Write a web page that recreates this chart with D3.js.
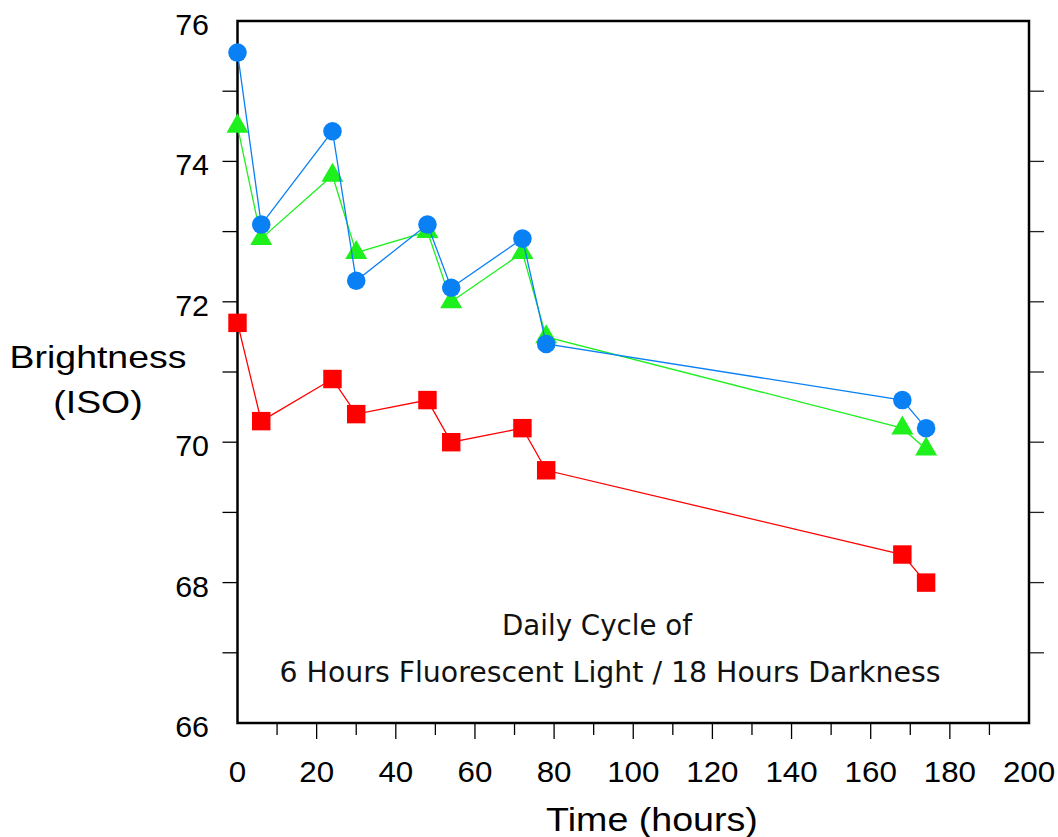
<!DOCTYPE html>
<html><head><meta charset="utf-8">
<script src="https://cdn.jsdelivr.net/npm/d3@7"></script>
<style>body{margin:0;background:#fff}svg{display:block}</style>
</head><body>
<script>
const hours = [0, 6, 24, 30, 48, 54, 72, 78, 168, 174];
const blueSeries = [75.55, 73.1, 74.43, 72.3, 73.1, 72.2, 72.9, 71.4, 70.6, 70.2];
const greenSeries = [74.5, 72.9, 73.8, 72.7, 73.0, 72.0, 72.7, 71.5, 70.2, 69.9];
const redSeries = [71.7, 70.3, 70.9, 70.4, 70.6, 70.0, 70.2, 69.6, 68.4, 68.0];
const xTickLabels = [0, 20, 40, 60, 80, 100, 120, 140, 160, 180, 200];
const yTickLabels = [66, 68, 70, 72, 74, 76];
const yLabelLines = ["Brightness", "(ISO)"];
const xLabel = "Time (hours)";
const noteLines = ["Daily Cycle of", "6 Hours Fluorescent Light / 18 Hours Darkness"];

const W = 1058, H = 837;
const L = 237.5, R = 1029, T = 21, B = 723;
const svg = d3.select("body").append("svg").attr("width", W).attr("height", H);
const x = d3.scaleLinear().domain([0, 200]).range([L, R]);
const y = d3.scaleLinear().domain([66, 76]).range([B, T]);
const font = "'Liberation Sans', Arial, sans-serif";

// bottom ticks
const xMinor = d3.range(10, 200, 20);
const xMajor = d3.range(20, 200, 20);
svg.append("g").selectAll("line").data(xMajor).join("line")
  .attr("x1", d => x(d)).attr("x2", d => x(d)).attr("y1", B).attr("y2", B + 16)
  .attr("stroke", "#000").attr("stroke-width", 1.3);
svg.append("g").selectAll("line").data(xMinor).join("line")
  .attr("x1", d => x(d)).attr("x2", d => x(d)).attr("y1", B).attr("y2", B + 12)
  .attr("stroke", "#000").attr("stroke-width", 1.3);
// left ticks
const yAllTicks = d3.range(67, 76, 1);
svg.append("g").selectAll("line").data(yAllTicks).join("line")
  .attr("x1", L - 15).attr("x2", L).attr("y1", d => y(d)).attr("y2", d => y(d))
  .attr("stroke", "#000").attr("stroke-width", 1.3);
// right ticks
svg.append("g").selectAll("line").data(yAllTicks).join("line")
  .attr("x1", R).attr("x2", R + 15).attr("y1", d => y(d)).attr("y2", d => y(d))
  .attr("stroke", "#222").attr("stroke-width", 1.3);

// frame
svg.append("rect").attr("x", L).attr("y", T).attr("width", R - L).attr("height", B - T)
  .attr("fill", "none").attr("stroke", "#000").attr("stroke-width", 2.5);

// tick labels
svg.append("g").selectAll("text").data(xTickLabels).join("text")
  .attr("transform", d => `translate(${x(d)},782) scale(1.08,1)`)
  .attr("text-anchor", "middle")
  .attr("font-family", font).attr("font-size", 29).text(d => d);
svg.append("g").selectAll("text").data(yTickLabels).join("text")
  .attr("transform", d => `translate(209,${y(d) + 14}) scale(1.05,1)`)
  .attr("text-anchor", "end")
  .attr("font-family", font).attr("font-size", 29).text(d => d);

// axis titles
svg.append("text").attr("transform", "translate(652,831) scale(1.14,1)").attr("text-anchor", "middle")
  .attr("font-family", font).attr("font-size", 33).text(xLabel);
svg.append("g").selectAll("text").data(yLabelLines).join("text")
  .attr("transform", (d, i) => `translate(98,${368 + i * 45}) scale(1.17,1)`)
  .attr("text-anchor", "middle")
  .attr("font-family", font).attr("font-size", 32).text(d => d);

// note
svg.append("g").selectAll("text").data(noteLines).join("text")
  .attr("x", (d, i) => i === 0 ? 597 : 610).attr("y", (d, i) => 635 + i * 47)
  .attr("text-anchor", "middle")
  .attr("font-family", "'DejaVu Sans', Tahoma, sans-serif").attr("font-size", 28)
  .attr("textLength", (d, i) => i === 0 ? 190 : 661).attr("lengthAdjust", "spacingAndGlyphs")
  .attr("fill", "#111").text(d => d);

const line = d3.line().x(d => x(d[0])).y(d => y(d[1]));
function series(vals, color, sym, size) {
  const pts = hours.map((h, i) => [h, vals[i]]);
  svg.append("path").datum(pts).attr("d", line).attr("fill", "none")
    .attr("stroke", color).attr("stroke-width", 1.3);
  svg.append("g").selectAll("path").data(pts).join("path")
    .attr("transform", d => `translate(${x(d[0])},${y(d[1])})`)
    .attr("d", d3.symbol().type(sym).size(size)).attr("fill", color);
}
series(redSeries, "#ff0000", d3.symbolSquare, 340);
series(greenSeries, "#1ef01e", d3.symbolTriangle, 210);
series(blueSeries, "#0a80f5", d3.symbolCircle, 270);
</script>
</body></html>
